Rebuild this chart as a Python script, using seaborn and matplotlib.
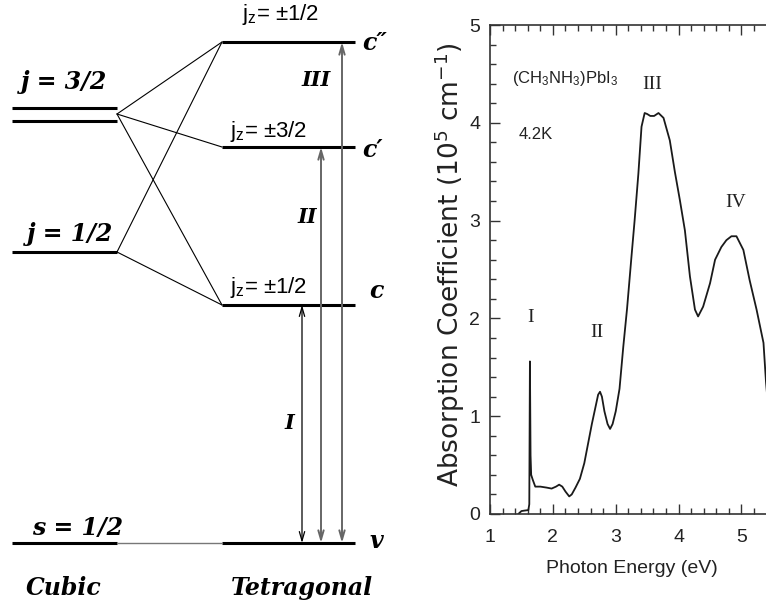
import matplotlib
matplotlib.use("Agg")
import matplotlib.pyplot as plt
from matplotlib.ticker import MultipleLocator
import seaborn as sns

# absorption spectrum of (CH3NH3)PbI3 at 4.2 K
energy_ev = [1.45, 1.50, 1.55, 1.61, 1.625, 1.635, 1.645, 1.655, 1.68, 1.72,
             1.80, 1.90, 1.98, 2.05, 2.10, 2.15, 2.20, 2.26, 2.30, 2.36,
             2.43, 2.50, 2.56, 2.62, 2.68, 2.72, 2.75, 2.78, 2.82, 2.87,
             2.91, 2.95, 3.00, 3.06, 3.12, 3.18, 3.25, 3.30, 3.36, 3.41,
             3.46, 3.50, 3.55, 3.61, 3.68, 3.76, 3.86, 3.94, 4.02, 4.10,
             4.18, 4.26, 4.31, 4.39, 4.50, 4.58, 4.68, 4.76, 4.84, 4.92,
             5.03, 5.13, 5.24, 5.35, 5.39, 5.45]
absorption = [0.00, 0.03, 0.035, 0.04, 0.10, 1.56, 0.60, 0.40, 0.35, 0.28,
              0.28, 0.27, 0.26, 0.28, 0.30, 0.28, 0.23, 0.18, 0.20, 0.27,
              0.36, 0.52, 0.72, 0.92, 1.10, 1.22, 1.25, 1.20, 1.05, 0.92,
              0.87, 0.92, 1.05, 1.28, 1.71, 2.10, 2.63, 3.00, 3.48, 3.96,
              4.10, 4.09, 4.07, 4.07, 4.10, 4.05, 3.82, 3.50, 3.21, 2.90,
              2.43, 2.09, 2.02, 2.12, 2.36, 2.60, 2.73, 2.80, 2.84, 2.84,
              2.70, 2.39, 2.09, 1.75, 1.35, 0.90]
peak_names = ["I", "II", "III", "IV"]
peak_x = [1.64, 2.70, 3.58, 4.90]
peak_y = [2.01, 1.86, 4.39, 3.19]

# level scheme, energies in arbitrary units above v
cubic_names = ["s = 1/2", "j = 1/2", "j = 3/2"]
cubic_energy = [0, 291, 429]
tetra_names = ["v", "c", "c\u2032", "c\u2033"]
tetra_energy = [0, 238, 396, 501]
jz_names = ["", "j$_z$= \u00b11/2", "j$_z$= \u00b13/2", "j$_z$= \u00b11/2"]
links = [(0, 0), (1, 1), (1, 3), (2, 1), (2, 2), (2, 3)]
transitions = ["I", "II", "III"]

sns.set_theme(style="ticks")
plt.rcParams["font.family"] = ["Liberation Sans", "DejaVu Sans"]
plt.rcParams["mathtext.default"] = "regular"

BI = dict(family="DejaVu Serif", weight="bold", style="italic", color="black")
SANS = ["Liberation Sans", "DejaVu Sans"]

fig = plt.figure(figsize=(7.66, 6.04), dpi=100)

# --- left: level diagram ---
axl = fig.add_axes([0, 0, 400 / 766, 1])
axl.set_xlim(0, 400)
axl.set_ylim(-61, 543)
axl.axis("off")

cub_x0, cub_x1 = 12, 117
tet_x0, tet_x1 = 222, 355

for name, e in zip(cubic_names, cubic_energy):
    if name == "j = 3/2":
        axl.hlines([e + 6.5, e - 6.5], cub_x0, cub_x1, color="black", lw=2.2)
    else:
        axl.hlines(e, cub_x0, cub_x1, color="black", lw=2.2)
cubic_label = {"s = 1/2": (32, 8), "j = 1/2": (27, 11), "j = 3/2": (21, 25)}
for name, e in zip(cubic_names, cubic_energy):
    lx, dy = cubic_label[name]
    axl.text(lx, e + dy, name, fontsize=17, va="baseline", ha="left", **BI)

axl.hlines(tetra_energy, tet_x0, tet_x1, color="black", lw=2.2)
tetra_label = {"v": (369, -5), "c": (369, 7), "c\u2032": (362, -10), "c\u2033": (362, -8)}
for name, e in zip(tetra_names, tetra_energy):
    lx, dy = tetra_label[name]
    axl.text(lx, e + dy, name, fontsize=17, va="baseline", ha="left", **BI)

jz_pos = [(0, 0), (230, 12), (230, 10), (242, 22)]
for name, e, (lx, dy) in zip(jz_names, tetra_energy, jz_pos):
    if name:
        axl.text(lx, e + dy, name, fontsize=16, va="baseline", ha="left",
                 family=SANS, color="black")

for ci, ti in links:
    ce, te = cubic_energy[ci], tetra_energy[ti]
    if ci == 0:
        axl.plot([cub_x1, tet_x0], [ce, te], color="#777777", lw=1.0)
    else:
        axl.plot([cub_x1, tet_x0], [ce, te], color="black", lw=0.8)

arrow_x = [302, 321, 342]
arrow_style = [("black", 0.9), ("#666666", 1.4), ("#666666", 1.4)]
label_pos = [(289, 120), (307, 326), (316, 463)]
for k, name in enumerate(transitions):
    top = tetra_energy[k + 1]
    col, lw = arrow_style[k]
    axl.annotate("", xy=(arrow_x[k], top), xytext=(arrow_x[k], tetra_energy[0]),
                 arrowprops=dict(arrowstyle="<->,head_length=0.55,head_width=0.16",
                                 color=col, lw=lw, shrinkA=0, shrinkB=0,
                                 mutation_scale=12))
    axl.text(label_pos[k][0], label_pos[k][1], name, fontsize=15,
             ha="center", va="center", **BI)

axl.text(26, -52, "Cubic", fontsize=17, ha="left", va="baseline", **BI)
axl.text(231, -52, "Tetragonal", fontsize=17, ha="left", va="baseline", **BI)

# --- right: absorption spectrum (cropped at the right edge) ---
axr = fig.add_axes([490 / 766, 90 / 604, 276 / 766, 489 / 604])
sns.lineplot(x=energy_ev, y=absorption, ax=axr, color="#1a1a1a", lw=1.3,
             estimator=None, sort=False)
axr.set_xlim(1, 5.39)
axr.set_ylim(0, 5)
axr.xaxis.set_major_locator(MultipleLocator(1))
axr.xaxis.set_minor_locator(MultipleLocator(0.2))
axr.yaxis.set_major_locator(MultipleLocator(1))
axr.yaxis.set_minor_locator(MultipleLocator(0.2))
axr.tick_params(which="both", direction="in", top=True, right=False,
                color="#333333", width=1.0)
axr.tick_params(which="major", length=7)
axr.tick_params(which="minor", length=4)
axr.tick_params(axis="x", labelsize=14, pad=11, labelcolor="#222222")
axr.tick_params(axis="y", labelsize=14, pad=7, labelcolor="#222222")
for sp in axr.spines.values():
    sp.set_color("#333333")
    sp.set_linewidth(1.2)
axr.spines["right"].set_visible(False)

axr.set_ylabel("Absorption Coefficient (10$^5$ cm$^{-1}$)", fontsize=19,
               family=["DejaVu Sans"], color="#222222")
axr.yaxis.set_label_coords(-0.085, 0.509)
axr.set_xlabel("Photon Energy (eV)", fontsize=14, color="#222222")
axr.xaxis.set_label_coords(0.513, -0.094)

axr.text(1.35, 4.45, "(CH$_3$NH$_3$)PbI$_3$", fontsize=12,
         ha="left", va="center", color="#222222")
axr.text(1.46, 3.88, "4.2K", fontsize=12, ha="left",
         va="center", color="#222222")
for name, px, py in zip(peak_names, peak_x, peak_y):
    axr.text(px, py, name, fontsize=14, family="Liberation Serif",
             ha="center", va="center", color="#222222")

fig.savefig("out.png", dpi=100)
